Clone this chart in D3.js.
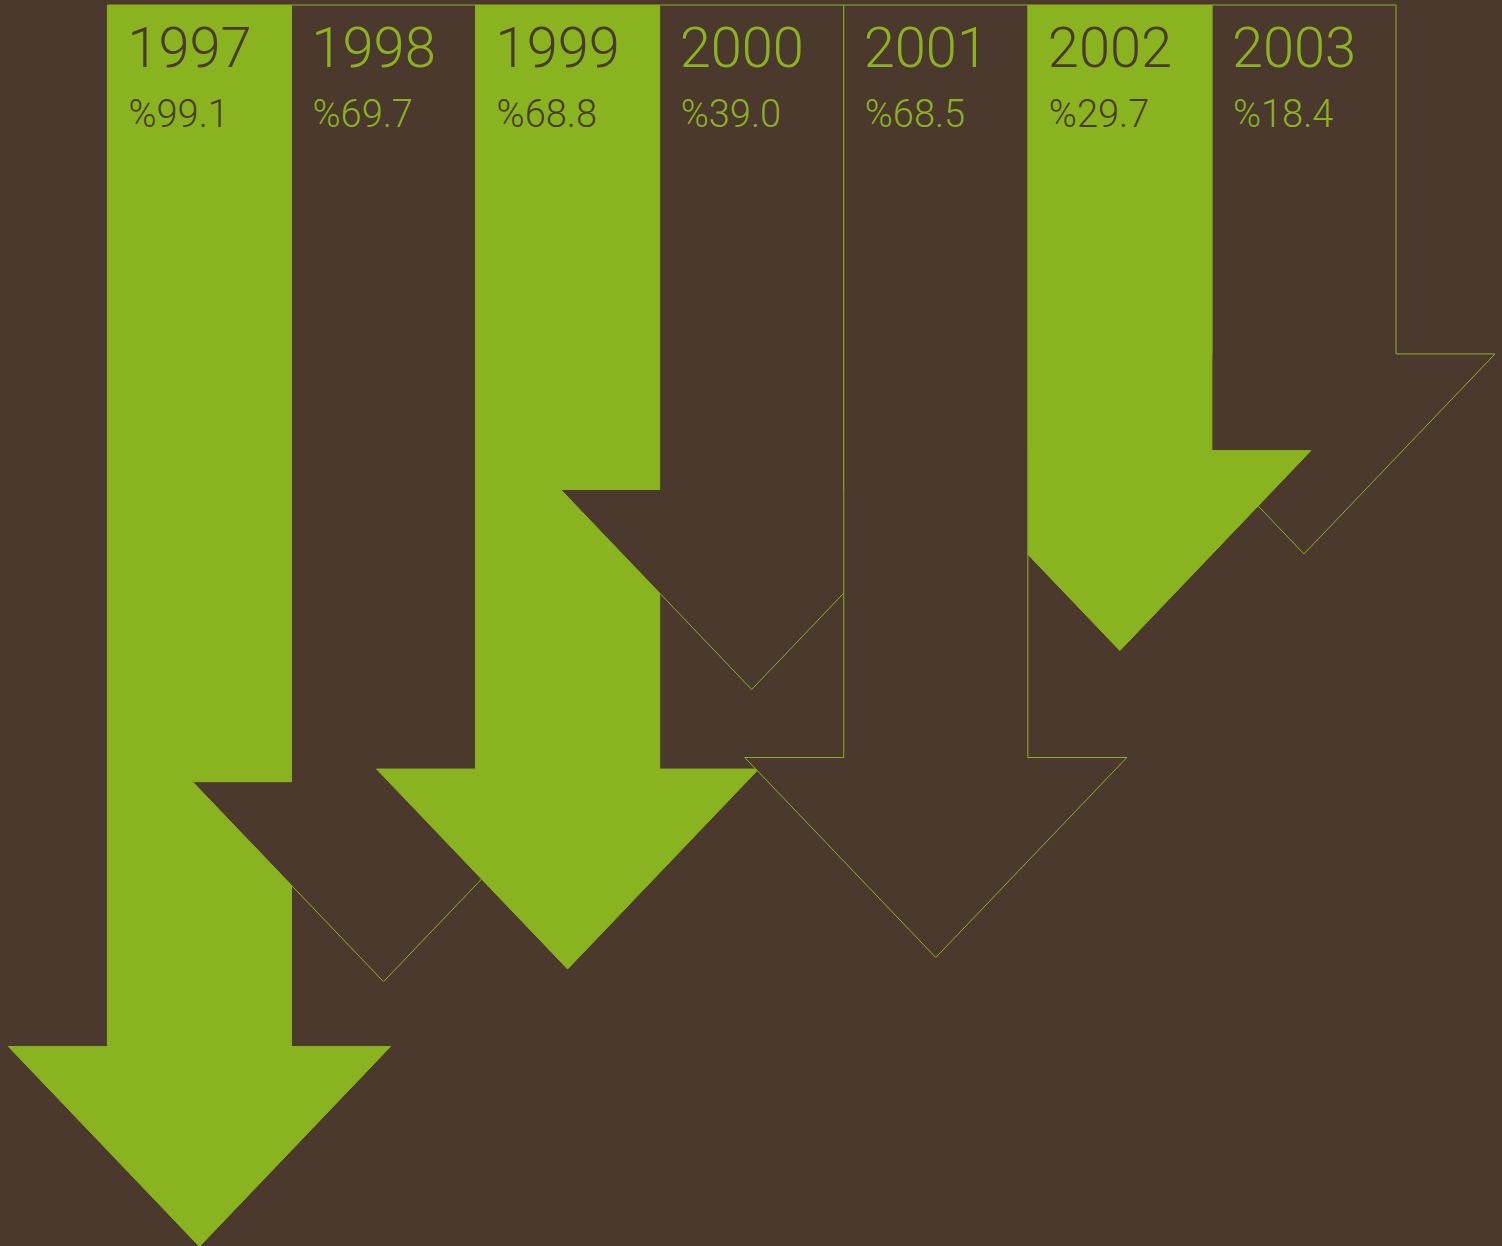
<!DOCTYPE html>
<html>
<head>
<meta charset="utf-8">
<script src="https://cdn.jsdelivr.net/npm/d3@7"></script>
<style>
  html, body { margin: 0; padding: 0; background: #4C392D; }
  svg { display: block; }
</style>
</head>
<body>
<svg id="chart" width="1502" height="1246"></svg>
<script>
// ---- data ----
const years = ["1997", "1998", "1999", "2000", "2001", "2002", "2003"];
const values = [99.1, 69.7, 68.8, 39.0, 68.5, 29.7, 18.4];          // printed percentages
const shaftDepth = [99.1, 73.9, 72.7, 46.1, 71.6, 42.4, 33.2];      // drawn shaft length (same % units)
const filled = [true, false, true, false, false, true, false];

// ---- style ----
const BROWN = "#4C392D";
const GREEN = "#8AB320";
const W = 1502, H = 1246;
const TOP = 5;
const HEAD_EXTRA = 99;   // how far the arrow head sticks out beyond the shaft
const HEAD_H = 200;      // arrow head height

const svg = d3.select("#chart");
svg.append("rect").attr("width", W).attr("height", H).attr("fill", BROWN);

const x = d3.scaleBand().domain(years).range([107.4, 1396]).padding(0);
const y = d3.scaleLinear().domain([0, 100]).range([TOP, TOP + 1051]);

const data = years.map((yr, i) => ({
  year: yr, value: values[i], depth: shaftDepth[i], filled: filled[i], i
}));

// stacking: arrows nearer to 2001 sit on top
const focus = years.indexOf("2001");
const order = data.slice().sort((a, b) => Math.abs(b.i - focus) - Math.abs(a.i - focus));

function arrowPath(d) {
  const x0 = x(d.year), x1 = x0 + x.bandwidth(), cx = (x0 + x1) / 2;
  const yb = y(d.depth);
  const p = d3.path();
  p.moveTo(x0, y(0));
  p.lineTo(x1, y(0));
  p.lineTo(x1, yb);
  p.lineTo(x1 + HEAD_EXTRA, yb);
  p.lineTo(cx, yb + HEAD_H);
  p.lineTo(x0 - HEAD_EXTRA, yb);
  p.lineTo(x0, yb);
  p.closePath();
  return p.toString();
}

svg.append("g").selectAll("path")
  .data(order)
  .join("path")
  .attr("d", arrowPath)
  .attr("fill", d => d.filled ? GREEN : BROWN)
  .attr("stroke", GREEN)
  .attr("stroke-width", 1)
  .attr("stroke-linejoin", "miter");

const fmt = d3.format(".1f");
const labels = svg.append("g").attr("font-family", "Roboto, 'Helvetica Neue', Arial, sans-serif")
  .attr("font-weight", 300);

labels.selectAll("text.year")
  .data(data)
  .join("text")
  .attr("class", "year")
  .attr("x", d => x(d.year) + 20)
  .attr("y", 67)
  .attr("font-size", 56)
  .attr("fill", d => d.filled ? BROWN : GREEN)
  .text(d => d.year);

labels.selectAll("text.pct")
  .data(data)
  .join("text")
  .attr("class", "pct")
  .attr("x", d => x(d.year) + 21)
  .attr("y", 127)
  .attr("font-size", 38)
  .attr("fill", d => d.filled ? BROWN : GREEN)
  .text(d => "%" + fmt(d.value));
</script>
</body>
</html>
